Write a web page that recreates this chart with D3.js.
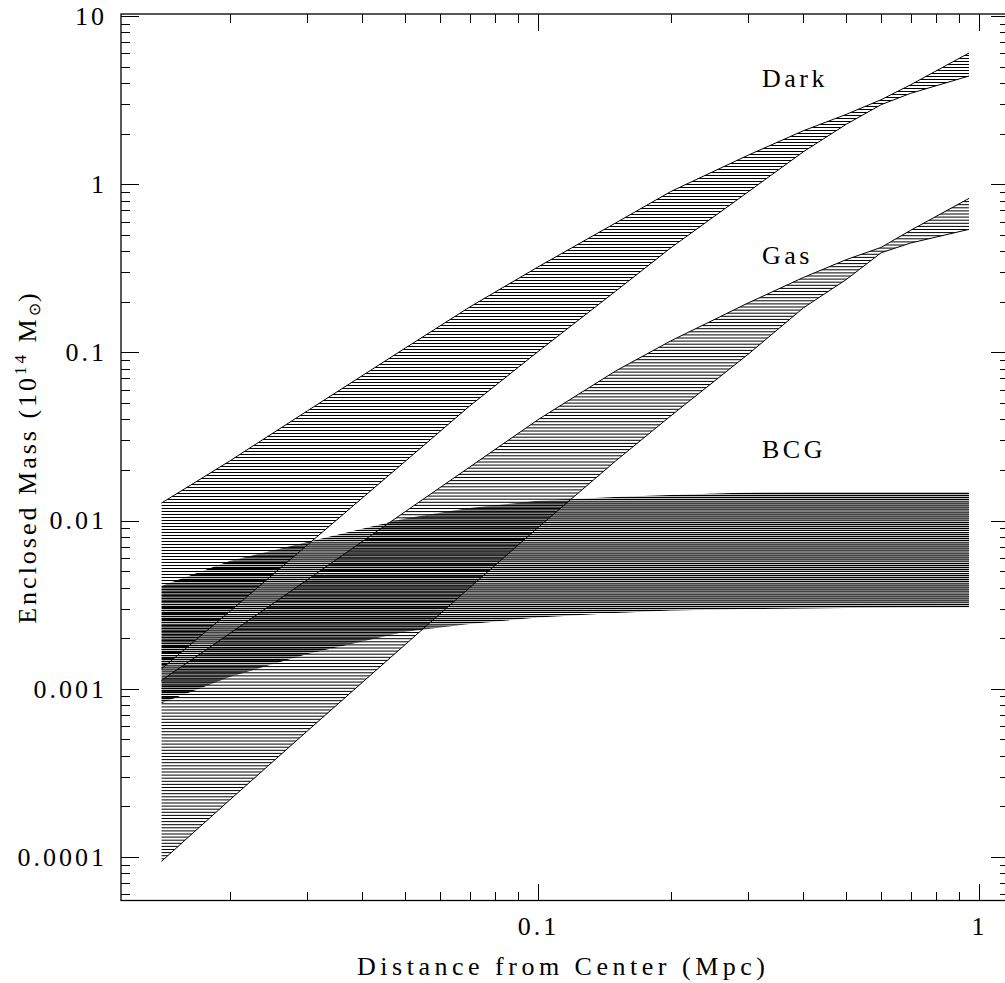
<!DOCTYPE html>
<html>
<head>
<meta charset="utf-8">
<script src="https://cdn.jsdelivr.net/npm/d3@7"></script>
<style>
  body { margin: 0; background: #fff; }
  svg { display: block; }
</style>
</head>
<body>
<svg id="grafico" width="1005" height="983"></svg>
<script>
// radios (Mpc) donde se leyeron las bandas
var radios = [0.014, 0.02, 0.03, 0.05, 0.07, 0.1, 0.15, 0.2, 0.3, 0.4, 0.5, 0.6, 0.7, 0.95];

// masa encerrada (1e14 Msun), limite superior e inferior de cada banda
var darkHi = [0.0127, 0.0226, 0.0449, 0.106, 0.186, 0.322, 0.588, 0.904, 1.49, 2.08, 2.60, 3.18, 3.90, 6.03];
var darkLo = [0.00131, 0.00288, 0.00716, 0.0225, 0.048, 0.101, 0.231, 0.418, 0.902, 1.56, 2.27, 2.97, 3.47, 4.40];
var gasHi = [0.00112, 0.00213, 0.00445, 0.0113, 0.0208, 0.0398, 0.0775, 0.117, 0.197, 0.279, 0.356, 0.421, 0.532, 0.824];
var gasLo = [0.000094, 0.000218, 0.000561, 0.00183, 0.00399, 0.00908, 0.0226, 0.0419, 0.0977, 0.184, 0.271, 0.391, 0.447, 0.539];
var bcgHi = [0.00408, 0.00575, 0.00746, 0.0103, 0.0119, 0.0131, 0.0138, 0.0142, 0.0147, 0.0148, 0.0148, 0.0148, 0.0148, 0.0148];
var bcgLo = [0.00082, 0.001175, 0.00161, 0.00218, 0.00243, 0.00265, 0.00282, 0.00292, 0.00298, 0.0030, 0.00302, 0.00303, 0.00304, 0.00305];

var nombres = ["Dark", "Gas", "BCG"];

// ticks
var xMayores = [0.1, 1];
var yMayores = [0.0001, 0.001, 0.01, 0.1, 1, 10];
var xDominio = [0.01134, 1.17];
var yDominio = [5.51e-5, 10.28];

var fuente = "'Liberation Serif', 'DejaVu Serif', serif";

var svg = d3.select("#grafico");
var defs = svg.append("defs");

var MARGINS = { left: 121, right: 1009, top: 14, bottom: 900.5 };

var x = d3.scaleLog().domain(xDominio).range([MARGINS.left, MARGINS.right]);
var y = d3.scaleLog().domain(yDominio).range([MARGINS.bottom, MARGINS.top]);

// ticks menores 2..9 de cada decada dentro del dominio
function menores(dom) {
    var out = [];
    for (var e = -6; e <= 2; e++) {
        for (var k = 2; k <= 9; k++) {
            var v = k * Math.pow(10, e);
            if (v > dom[0] && v < dom[1]) out.push(v);
        }
    }
    return out;
}

// bandas rayadas con lineas horizontales, recortadas por el area
function banda(id, lo, hi, paso, grosor, contorno) {
    var area = d3.area()
        .x(function (d, i) { return x(radios[i]); })
        .y0(function (d, i) { return y(lo[i]); })
        .y1(function (d, i) { return y(hi[i]); });

    defs.append("clipPath").attr("id", id)
        .append("path").attr("d", area(radios));

    var arriba = y(d3.max(hi)), abajo = y(d3.min(lo));
    var g = svg.append("g").attr("clip-path", "url(#" + id + ")");
    g.selectAll("line")
        .data(d3.range(Math.floor(arriba) + 0.5, abajo + 1, paso))
        .join("line")
        .attr("x1", x(radios[0]))
        .attr("x2", x(radios[radios.length - 1]))
        .attr("y1", function (d) { return d; })
        .attr("y2", function (d) { return d; })
        .attr("stroke", "#000")
        .attr("stroke-width", grosor);

    if (contorno) {
        var linea = function (vals) {
            return d3.line()
                .x(function (d, i) { return x(radios[i]); })
                .y(function (d, i) { return y(vals[i]); })(radios);
        };
        svg.append("path").attr("d", linea(hi)).attr("fill", "none").attr("stroke", "#000").attr("stroke-width", 1);
        svg.append("path").attr("d", linea(lo)).attr("fill", "none").attr("stroke", "#000").attr("stroke-width", 1);
    }
}

banda("clip-bcg", bcgLo, bcgHi, 2.05, 1.25, false);
banda("clip-dark", darkLo, darkHi, 3, 1, true);
banda("clip-gas", gasLo, gasHi, 3.1, 1, true);

// ejes
function estiloEje(g) {
    g.select(".domain").remove();
    g.selectAll("line").attr("stroke", "#000").attr("shape-rendering", "crispEdges");
    g.attr("font-family", fuente).attr("font-size", 26);
    g.selectAll("text").attr("letter-spacing", 3).attr("fill", "#000");
}

var fmt = function (d) { return String(d); };

svg.append("g").attr("transform", "translate(0," + MARGINS.bottom + ")")
    .call(d3.axisBottom(x).tickValues(xMayores).tickFormat(fmt).tickSize(-17).tickPadding(16))
    .call(estiloEje);
svg.append("g").attr("transform", "translate(0," + MARGINS.bottom + ")")
    .call(d3.axisBottom(x).tickValues(menores(xDominio)).tickFormat("").tickSize(-9))
    .call(estiloEje);
svg.append("g").attr("transform", "translate(0," + MARGINS.top + ")")
    .call(d3.axisTop(x).tickValues(xMayores).tickFormat("").tickSize(-17))
    .call(estiloEje);
svg.append("g").attr("transform", "translate(0," + MARGINS.top + ")")
    .call(d3.axisTop(x).tickValues(menores(xDominio)).tickFormat("").tickSize(-9))
    .call(estiloEje);

svg.append("g").attr("transform", "translate(" + MARGINS.left + ",0)")
    .call(d3.axisLeft(y).tickValues(yMayores).tickFormat(fmt).tickSize(-18).tickPadding(14))
    .call(estiloEje);
svg.append("g").attr("transform", "translate(" + MARGINS.left + ",0)")
    .call(d3.axisLeft(y).tickValues(menores(yDominio)).tickFormat("").tickSize(-9))
    .call(estiloEje);
svg.append("g").attr("transform", "translate(" + MARGINS.right + ",0)")
    .call(d3.axisRight(y).tickValues(yMayores).tickFormat("").tickSize(-18))
    .call(estiloEje);
svg.append("g").attr("transform", "translate(" + MARGINS.right + ",0)")
    .call(d3.axisRight(y).tickValues(menores(yDominio)).tickFormat("").tickSize(-9))
    .call(estiloEje);

// marco
svg.append("rect")
    .attr("x", MARGINS.left).attr("y", MARGINS.top)
    .attr("width", MARGINS.right - MARGINS.left)
    .attr("height", MARGINS.bottom - MARGINS.top)
    .attr("fill", "none").attr("stroke", "#000").attr("stroke-width", 1.3);

// etiquetas de las bandas
var posEtiquetas = [87, 264, 458];
svg.selectAll(".etiqueta")
    .data(nombres)
    .join("text")
    .attr("class", "etiqueta")
    .attr("x", 762)
    .attr("y", function (d, i) { return posEtiquetas[i]; })
    .attr("font-family", fuente).attr("font-size", 26).attr("letter-spacing", 3.5)
    .text(function (d) { return d; });

// titulo eje X
svg.append("text")
    .attr("x", 561).attr("y", 975)
    .attr("text-anchor", "middle")
    .attr("font-family", fuente).attr("font-size", 26)
    .attr("textLength", 408).attr("lengthAdjust", "spacing")
    .text("Distance from Center (Mpc)");

// titulo eje Y con superindice y subindice
var ty = svg.append("text")
    .attr("transform", "translate(36,457) rotate(-90)")
    .attr("text-anchor", "middle")
    .attr("font-family", fuente).attr("font-size", 26).attr("letter-spacing", 3);
ty.append("tspan").text("Enclosed Mass (10");
ty.append("tspan").attr("font-size", 17).attr("dy", -10).text("14");
ty.append("tspan").attr("dy", 10).text(" M");
ty.append("tspan").attr("font-size", 16).attr("dy", 4).attr("font-family", "'DejaVu Sans', sans-serif").attr("letter-spacing", 1).text("\u2299");
ty.append("tspan").attr("dy", -4).text(")");
</script>
</body>
</html>
